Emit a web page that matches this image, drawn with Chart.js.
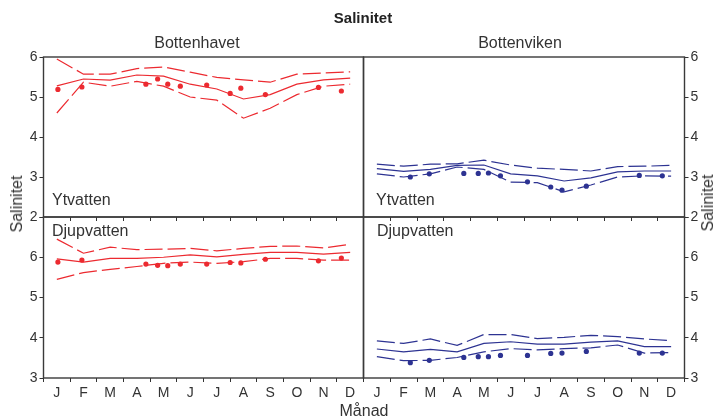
<!DOCTYPE html>
<html>
<head>
<meta charset="utf-8">
<script src="https://cdn.jsdelivr.net/npm/chart.js@4"></script>
<style>
  body { margin: 0; background: #fff; }
  #wrap { position: relative; width: 714px; height: 417px; overflow: hidden; font-family: 'Liberation Sans', Arial, sans-serif; color: #333; }
  #wrap canvas { position: absolute; left: 0; top: 0; }
  .txt { position: absolute; white-space: nowrap; line-height: 1; }
  .c { transform: translate(-50%, -50%); }
  .rot { transform: translate(-50%, -50%) rotate(-90deg); }
</style>
</head>
<body>
<div id="wrap">
  <canvas id="tl" width="714" height="417"></canvas>
  <canvas id="bl" width="714" height="417"></canvas>
  <canvas id="tr" width="714" height="417"></canvas>
  <canvas id="br" width="714" height="417"></canvas>
  <div class="txt c" style="left:363px;top:17px;font-size:15px;font-weight:bold;color:#222">Salinitet</div>
  <div class="txt c" style="left:197px;top:43px;font-size:16px">Bottenhavet</div>
  <div class="txt c" style="left:520px;top:43px;font-size:16px">Bottenviken</div>
  <div class="txt" style="left:52px;top:192px;font-size:16px">Ytvatten</div>
  <div class="txt" style="left:376px;top:192px;font-size:16px">Ytvatten</div>
  <div class="txt" style="left:52px;top:223px;font-size:16px">Djupvatten</div>
  <div class="txt" style="left:377px;top:223px;font-size:16px">Djupvatten</div>
  <div class="txt c" style="left:364px;top:411px;font-size:16px">Månad</div>
  <div class="txt rot" style="left:17px;top:204px;font-size:16px">Salinitet</div>
  <div class="txt rot" style="left:708px;top:203px;font-size:16px">Salinitet</div>
</div>
<script>
const months = ['J', 'F', 'M', 'A', 'M', 'J', 'J', 'A', 'S', 'O', 'N', 'D'];

// Bottenhavet
const bhSampleMonths = [0.54, 1.44, 3.84, 4.28, 4.66, 5.13, 6.12, 7.0, 7.4, 8.32, 10.31, 11.17];
const bhYtHigh = [5.95, 5.57, 5.57, 5.71, 5.75, 5.62, 5.49, 5.43, 5.37, 5.57, 5.6, 5.63];
const bhYtMean = [5.28, 5.45, 5.42, 5.55, 5.52, 5.32, 5.2, 4.95, 5.06, 5.32, 5.43, 5.47];
const bhYtLow = [4.6, 5.37, 5.27, 5.39, 5.27, 5.0, 4.92, 4.47, 4.72, 5.06, 5.27, 5.32];
const bhYtObs = [5.19, 5.25, 5.32, 5.45, 5.32, 5.27, 5.3, 5.09, 5.22, 5.06, 5.24, 5.15];
const bhDjHigh = [6.45, 6.1, 6.25, 6.19, 6.2, 6.22, 6.16, 6.22, 6.27, 6.28, 6.23, 6.32];
const bhDjMean = [5.96, 5.88, 5.97, 5.97, 6.0, 6.06, 6.01, 6.07, 6.12, 6.12, 6.08, 6.12];
const bhDjLow = [5.45, 5.62, 5.7, 5.77, 5.85, 5.88, 5.85, 5.89, 5.97, 5.97, 5.93, 5.93];
const bhDjObs = [5.88, 5.93, 5.83, 5.8, 5.79, 5.83, 5.83, 5.87, 5.86, 5.95, 5.91, 5.98];

// Bottenviken
const bvSampleMonths = [1.75, 2.46, 3.75, 4.29, 4.67, 5.12, 6.13, 7.0, 7.42, 8.33, 10.31, 11.17];
const bvYtHigh = [3.32, 3.27, 3.32, 3.33, 3.42, 3.3, 3.22, 3.19, 3.15, 3.26, 3.27, 3.29];
const bvYtMean = [3.21, 3.14, 3.19, 3.29, 3.3, 3.08, 3.03, 2.9, 2.98, 3.13, 3.15, 3.15];
const bvYtLow = [3.08, 3.0, 3.08, 3.25, 3.19, 2.87, 2.86, 2.63, 2.8, 3.0, 3.03, 3.02];
const bvYtObs = [3.0, 3.08, 3.09, 3.09, 3.1, 3.03, 2.88, 2.75, 2.67, 2.77, 3.04, 3.03];
const bvDjHigh = [3.92, 3.86, 3.97, 3.81, 4.08, 4.08, 3.98, 4.01, 4.06, 4.03, 3.97, 3.93];
const bvDjMean = [3.72, 3.65, 3.71, 3.65, 3.86, 3.9, 3.84, 3.84, 3.89, 3.92, 3.78, 3.78];
const bvDjLow = [3.53, 3.43, 3.44, 3.51, 3.65, 3.73, 3.7, 3.73, 3.75, 3.82, 3.62, 3.63];
const bvDjObs = [3.38, 3.44, 3.51, 3.53, 3.53, 3.56, 3.56, 3.61, 3.62, 3.66, 3.62, 3.62];

const RED = '#ec2a30';
const BLUE = '#2d3392';
const INK = '#333';
const W = 714, H = 417;

// monthly values sit at the middle of each month
const monthly = vals => vals.map((v, i) => ({ x: i + 0.5, y: v }));
const samples = (xs, vals) => vals.map((v, i) => ({ x: xs[i], y: v }));

const framePlugin = {
  id: 'frame',
  afterDatasetsDraw(chart) {
    const { ctx, chartArea: a } = chart;
    ctx.save();
    ctx.strokeStyle = '#3a3a3a';
    ctx.lineWidth = 1.4;
    ctx.strokeRect(a.left, a.top, a.right - a.left, a.bottom - a.top);
    ctx.restore();
  }
};

function makePanel(id, p) {
  const yW = 26;
  const xH = p.monthLabels ? 24 : 4;
  const line = (vals, dashed) => ({
    data: monthly(vals),
    showLine: true,
    borderColor: p.color,
    borderWidth: 1.2,
    borderDash: dashed ? [18, 5] : [],
    pointRadius: 0,
    tension: 0
  });
  new Chart(document.getElementById(id), {
    type: 'scatter',
    data: {
      datasets: [
        line(p.high, true),
        line(p.mean, false),
        line(p.low, true),
        {
          data: samples(p.sampleMonths, p.obs),
          showLine: false,
          pointRadius: 2.6,
          pointBackgroundColor: p.color,
          pointBorderWidth: 0
        }
      ]
    },
    options: {
      responsive: false,
      animation: false,
      events: [],
      layout: {
        padding: {
          left: p.area.l - (p.yPos === 'left' ? yW : 0),
          right: W - p.area.r - (p.yPos === 'right' ? yW : 0),
          top: p.area.t,
          bottom: H - p.area.b - xH
        }
      },
      plugins: { legend: { display: false }, tooltip: { enabled: false } },
      scales: {
        x: {
          type: 'linear',
          min: 0,
          max: 12,
          afterFit: s => { s.height = xH; },
          border: { display: false },
          grid: {
            drawOnChartArea: false,
            tickLength: 4,
            tickColor: ctx => Number.isInteger(ctx.tick.value) ? INK : 'rgba(0,0,0,0)'
          },
          ticks: {
            stepSize: p.monthLabels ? 0.5 : 1,
            autoSkip: false,
            maxRotation: 0,
            padding: 3,
            display: p.monthLabels,
            color: INK,
            font: { family: 'Liberation Sans', size: 14 },
            callback: v => Number.isInteger(v) ? '' : months[Math.floor(v)]
          }
        },
        y: {
          position: p.yPos,
          min: p.yMin,
          max: p.yMax,
          afterFit: s => { s.width = yW; },
          border: { display: false },
          grid: { drawOnChartArea: false, tickLength: 4, tickColor: INK },
          ticks: {
            stepSize: 1,
            padding: 2,
            color: INK,
            font: { family: 'Liberation Sans', size: 14 },
            callback: v => (v > p.yLabelMax ? '' : v)
          }
        }
      }
    },
    plugins: [framePlugin]
  });
}

const colLeft = { l: 43.5, r: 363.5 }, colRight = { l: 363.5, r: 684.5 };
const rowTop = { t: 57, b: 217 }, rowBottom = { t: 217, b: 378 };

makePanel('tl', {
  area: { ...colLeft, ...rowTop }, yPos: 'left', yMin: 2, yMax: 6, yLabelMax: 6, monthLabels: false, color: RED,
  high: bhYtHigh, mean: bhYtMean, low: bhYtLow, sampleMonths: bhSampleMonths, obs: bhYtObs
});
makePanel('bl', {
  area: { ...colLeft, ...rowBottom }, yPos: 'left', yMin: 3, yMax: 7, yLabelMax: 6, monthLabels: true, color: RED,
  high: bhDjHigh, mean: bhDjMean, low: bhDjLow, sampleMonths: bhSampleMonths, obs: bhDjObs
});
makePanel('tr', {
  area: { ...colRight, ...rowTop }, yPos: 'right', yMin: 2, yMax: 6, yLabelMax: 6, monthLabels: false, color: BLUE,
  high: bvYtHigh, mean: bvYtMean, low: bvYtLow, sampleMonths: bvSampleMonths, obs: bvYtObs
});
makePanel('br', {
  area: { ...colRight, ...rowBottom }, yPos: 'right', yMin: 3, yMax: 7, yLabelMax: 6, monthLabels: true, color: BLUE,
  high: bvDjHigh, mean: bvDjMean, low: bvDjLow, sampleMonths: bvSampleMonths, obs: bvDjObs
});
</script>
</body>
</html>
